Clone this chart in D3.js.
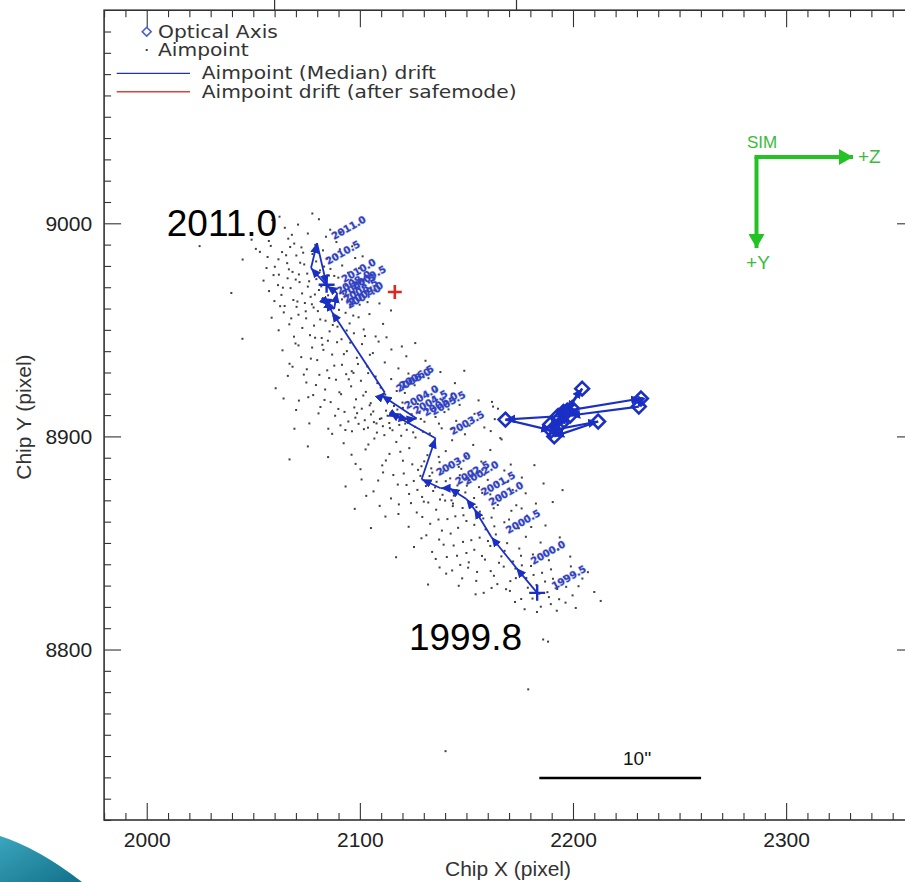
<!DOCTYPE html>
<html>
<head>
<meta charset="utf-8">
<script src="https://cdn.jsdelivr.net/npm/d3@7"></script>
<style>
  body { margin: 0; background: #fff; }
  svg { display: block; }
</style>
</head>
<body>
<script>
// axis ticks
const xMajor = [2000, 2100, 2200, 2300];
const yMajor = [8800, 8900, 9000];

// median aimpoint drift, half-year steps (last point has no label)
const driftYears = [1999.5, 2000.0, 2000.5, 2001.0, 2001.5, 2002.0, 2002.5, 2003.0, 2003.5, 2004.0,
  2004.5, 2005.0, 2005.5, 2006.0, 2006.5, 2007.0, 2007.5, 2008.0, 2008.5, 2009.0, 2009.5, 2010.0,
  2010.5, 2011.0, null];
const driftX = [2183.2, 2173.4, 2161.7, 2153.7, 2150.0, 2142.1, 2137.9, 2129.0, 2135.5, 2114.0,
  2118.2, 2122.9, 2126.6, 2110.3, 2111.7, 2086.9, 2084.6, 2082.2, 2085.5, 2087.9, 2089.3, 2084.6,
  2077.1, 2079.9, 2084.4];
const driftY = [8826.6, 8838.3, 8852.8, 8865.9, 8870.6, 8875.7, 8875.7, 8879.9, 8899.1, 8911.2,
  8908.9, 8907.9, 8908.4, 8919.2, 8920.6, 8958.4, 8963.6, 8965.0, 8961.2, 8959.8, 8967.3, 8970.6,
  8979.0, 8990.7, 8971.2];

// optical axis track
const opticalX = [2193.6, 2204.3, 2197.3, 2231.9, 2230.9, 2198.7, 2168.3, 2189.8, 2211.8, 2191.2,
  2189.3, 2194.5, 2196.4, 2192.6, 2195.5, 2199.5, 2193.0];
const opticalY = [8908.4, 8922.4, 8912.1, 8917.8, 8914.0, 8909.8, 8907.9, 8902.8, 8907.0, 8900.0,
  8905.6, 8906.1, 8910.7, 8904.2, 8911.5, 8913.2, 8909.6];

// aimpoint drift after safemode
const safemodeX = [2116.4];
const safemodeY = [8967.8];

// individual aimpoints
const aimpoints = [
  [2062.3,9003.1],[2071.0,8999.4],[2080.8,9001.9],[2058.9,9001.5],[2075.6,8995.2],[2066.4,8992.8],[2084.1,8993.7],[2069.2,8990.5],[2089.0,8991.2],[2054.3,8996.0],[2077.7,9004.6],[2064.8,8997.9],
  [2051.2,8988.0],[2056.7,8984.2],[2060.1,8979.6],[2063.5,8986.5],[2065.9,8981.3],[2068.4,8977.2],[2070.2,8984.9],[2072.6,8988.7],[2073.9,8980.7],[2075.3,8976.4],[2077.8,8985.6],[2079.5,8982.1],[2081.3,8977.9],[2082.7,8987.3],[2084.6,8983.4],[2086.2,8978.6],[2088.9,8985.0],[2091.7,8980.2],[2094.4,8976.8],[2097.8,8983.7],[2062.0,8975.9],[2067.3,8988.9],[2071.4,8976.0],[2058.2,8989.4],[2085.5,8975.5],[2099.6,8978.9],[2045.0,8983.0],
  [2054.8,8973.1],[2057.4,8968.2],[2059.9,8963.5],[2061.6,8971.0],[2063.2,8966.4],[2064.7,8961.2],[2066.1,8974.2],[2067.5,8969.6],[2068.8,8964.0],[2070.3,8960.8],[2071.7,8972.4],[2072.9,8967.1],[2074.2,8962.6],[2075.6,8970.3],[2076.9,8965.5],[2078.3,8960.5],[2079.6,8973.8],[2080.8,8968.7],[2082.0,8963.1],[2083.5,8971.6],[2085.1,8966.2],[2086.7,8961.4],[2088.3,8969.0],[2089.9,8974.5],[2091.6,8964.3],[2093.4,8970.8],[2095.3,8961.9],[2097.5,8967.6],[2100.2,8972.3],[2103.6,8963.0],[2069.9,8973.6],[2077.5,8962.0],[2039.7,8967.3],[2106.8,8968.5],
  [2058.6,8955.7],[2061.9,8949.8],[2064.3,8958.2],[2066.9,8952.6],[2069.1,8946.8],[2071.2,8957.1],[2073.0,8950.9],[2074.8,8955.4],[2076.6,8947.5],[2078.5,8952.0],[2080.3,8958.8],[2082.1,8946.2],[2083.9,8954.3],[2085.8,8949.3],[2087.6,8956.6],[2089.5,8951.5],[2091.4,8945.6],[2093.3,8958.0],[2095.2,8953.0],[2097.2,8948.4],[2099.4,8955.9],[2101.8,8950.2],[2104.5,8957.4],[2107.4,8946.9],[2110.9,8952.8],[2114.6,8959.1],[2044.9,8945.8],
  [2063.7,8940.4],[2067.0,8934.1],[2069.8,8943.6],[2072.5,8937.2],[2075.1,8931.5],[2077.6,8941.7],[2080.0,8935.8],[2082.4,8943.0],[2084.7,8931.0],[2087.0,8938.4],[2089.3,8944.2],[2091.6,8933.6],[2093.9,8940.0],[2096.2,8930.6],[2098.6,8936.9],[2101.0,8943.3],[2103.5,8932.8],[2106.1,8939.1],[2108.8,8944.5],[2111.7,8934.7],[2114.8,8940.8],[2118.1,8931.9],[2121.8,8937.6],[2126.0,8943.8],
  [2060.5,8922.6],[2066.2,8928.4],[2071.4,8916.8],[2074.9,8925.3],[2078.1,8919.4],[2081.0,8928.9],[2083.7,8922.0],[2086.3,8916.1],[2088.8,8926.6],[2091.2,8919.8],[2093.6,8929.2],[2095.9,8923.5],[2098.2,8917.4],[2100.5,8926.1],[2102.8,8920.9],[2105.1,8915.6],[2107.4,8928.1],[2109.8,8922.9],[2112.2,8917.9],[2114.7,8926.9],[2117.3,8921.3],[2120.0,8915.9],[2122.8,8929.5],[2125.7,8924.0],[2128.8,8918.6],[2132.2,8927.3],[2135.9,8921.7],[2140.1,8916.4],[2144.6,8925.0],[2097.0,8929.8],
  [2070.1,8912.4],[2076.3,8906.1],[2081.5,8913.8],[2085.2,8903.6],[2088.4,8909.7],[2090.9,8905.2],[2092.8,8911.5],[2094.6,8907.0],[2096.3,8902.4],[2097.9,8908.8],[2099.4,8905.9],[2100.9,8913.0],[2102.3,8907.6],[2103.8,8904.1],[2105.2,8910.3],[2106.6,8906.7],[2108.0,8901.8],[2109.4,8908.2],[2110.8,8904.8],[2112.3,8912.1],[2113.8,8906.3],[2115.3,8902.9],[2116.9,8909.4],[2118.5,8905.4],[2120.2,8913.4],[2122.0,8903.1],[2123.9,8908.6],[2125.9,8904.5],[2128.0,8911.0],[2130.3,8906.9],[2132.8,8901.4],[2135.5,8909.1],[2138.4,8903.8],[2141.6,8912.7],[2145.2,8907.3],[2149.3,8901.0],[2153.8,8910.6],[2158.4,8904.2],[2162.5,8914.0],[2087.0,8901.2],[2104.6,8914.6],[2111.5,8900.6],[2119.4,8900.3],
  [2085.1,8890.3],[2092.4,8896.8],[2098.0,8887.1],[2102.7,8893.9],[2106.8,8899.0],[2110.5,8886.4],[2113.9,8891.8],[2117.1,8897.4],[2120.2,8888.6],[2123.2,8894.5],[2126.1,8899.5],[2128.9,8886.0],[2131.7,8891.2],[2134.5,8896.3],[2137.4,8887.9],[2140.3,8893.1],[2143.3,8898.2],[2146.4,8885.7],[2149.7,8890.6],[2153.2,8896.0],[2157.0,8888.2],[2161.2,8893.6],[2165.9,8899.2],[2170.8,8886.8],[2075.6,8895.3],[2067.0,8889.2],
  [2100.8,8879.8],[2106.4,8874.2],[2110.9,8883.1],[2114.6,8870.9],[2117.8,8877.4],[2120.6,8882.6],[2123.1,8873.0],[2125.3,8879.1],[2127.3,8884.3],[2129.2,8871.6],[2131.0,8876.7],[2132.7,8881.4],[2134.4,8874.4],[2136.0,8878.7],[2137.6,8870.4],[2139.2,8883.6],[2140.8,8875.6],[2142.4,8880.3],[2144.1,8872.2],[2145.8,8877.0],[2147.6,8884.8],[2149.5,8873.7],[2151.5,8879.5],[2153.6,8871.1],[2155.9,8876.2],[2158.4,8882.0],[2161.2,8872.8],[2164.3,8878.4],[2167.8,8884.0],[2171.7,8874.9],[2176.0,8880.7],[2093.3,8876.5],[2133.5,8885.0],[2143.0,8870.0],
  [2112.0,8862.4],[2118.3,8868.1],[2122.9,8857.6],[2126.7,8864.3],[2130.0,8869.4],[2133.0,8859.0],[2135.8,8865.6],[2138.5,8855.8],[2141.1,8861.2],[2143.6,8867.3],[2146.1,8857.1],[2148.6,8863.0],[2151.1,8868.8],[2153.7,8858.5],[2156.3,8864.7],[2159.0,8856.4],[2161.8,8861.9],[2164.7,8867.8],[2167.8,8859.7],[2171.1,8865.1],[2174.6,8856.9],[2178.4,8862.8],[2182.6,8868.5],[2187.1,8858.2],[2105.2,8857.0],[2140.0,8869.9],
  [2125.4,8848.1],[2131.2,8853.6],[2135.6,8842.5],[2139.3,8849.2],[2142.6,8854.4],[2145.6,8844.0],[2148.4,8850.5],[2151.1,8840.9],[2153.7,8846.8],[2156.2,8852.5],[2158.7,8842.2],[2161.2,8848.6],[2163.8,8854.0],[2166.4,8843.7],[2169.1,8849.9],[2171.9,8841.3],[2174.8,8847.4],[2177.9,8852.9],[2181.2,8844.6],[2184.8,8850.2],[2188.7,8841.9],[2193.0,8847.0],[2117.0,8843.3],
  [2140.5,8835.6],[2146.4,8829.9],[2150.8,8838.4],[2154.6,8832.2],[2158.1,8826.6],[2161.4,8836.8],[2164.5,8830.7],[2167.5,8838.9],[2170.4,8827.5],[2173.2,8833.5],[2176.0,8839.5],[2178.8,8829.0],[2181.5,8835.0],[2184.2,8826.2],[2186.9,8831.9],[2189.7,8837.6],[2192.6,8828.4],[2195.7,8834.1],[2199.0,8839.0],[2202.6,8829.7],[2207.0,8836.3],[2132.0,8830.5],
  [2172.8,8822.3],[2177.3,8818.9],[2181.0,8823.9],[2184.9,8820.1],[2188.7,8824.6],[2192.4,8818.2],[2196.5,8822.0],[2201.3,8819.5],[2213.0,8822.8],
  [2162.0,8916.2],[2164.8,8913.0],[2161.4,8902.5],[2166.5,8898.6],[2163.3,8908.1],
  [2024.8,8989.3],[2186.0,8804.7],[2188.3,8803.7],[2179.0,8781.3],[2140.2,8752.3],
  [2057.3,8991.7],[2061.8,8983.1],[2066.7,8978.4],[2068.1,8994.6],[2073.4,8986.2],[2076.2,8972.8],[2079.1,8989.9],[2081.9,8970.4],[2083.2,8979.7],[2086.8,8968.1],[2088.0,8975.3],[2090.6,8987.8],[2092.3,8966.9],[2095.7,8973.5],[2059.5,8975.7],[2063.9,8969.8],[2065.4,8985.0],[2070.7,8963.3],[2072.0,8981.5],[2074.6,8958.7],[2078.9,8966.6],[2081.4,8954.9],[2084.3,8962.5],[2087.3,8952.3],[2090.2,8959.4],[2093.8,8949.7],[2096.9,8956.7],[2099.9,8961.8],[2102.4,8947.1],[2067.8,8955.4],[2062.6,8961.1],[2056.2,8979.0],[2053.1,8986.6],[2049.2,8992.3],[2086.1,8997.0],[2091.1,8995.8],[2096.4,8989.2],[2101.3,8984.5],[2105.5,8975.9],[2109.2,8962.4],
  [2071.2,8942.7],[2073.7,8929.0],[2077.0,8936.5],[2079.4,8924.1],[2082.9,8940.6],[2085.6,8927.4],[2088.0,8933.2],[2090.4,8920.7],[2092.5,8938.6],[2094.8,8926.8],[2097.4,8913.6],[2099.1,8934.0],[2101.6,8919.2],[2103.9,8929.7],[2106.3,8911.7],[2108.2,8925.0],[2110.1,8908.5],[2111.9,8919.6],[2114.1,8903.9],[2116.0,8914.3],[2118.9,8907.8],[2121.1,8920.4],[2124.3,8910.4],[2127.2,8915.2],[2129.6,8902.2],[2131.4,8912.5],[2134.2,8918.3],[2137.1,8906.0],[2139.7,8911.4],[2143.0,8903.5],[2146.8,8914.8],[2151.5,8905.1],[2155.7,8916.9],[2080.6,8910.8],[2083.4,8917.1],[2089.9,8912.9],[2093.2,8903.0],[2098.7,8910.9],[2101.9,8903.4],[2107.8,8906.1],[2113.0,8909.7],[2117.6,8912.6],[2121.3,8906.0],[2125.0,8901.9],[2128.6,8908.2],[2075.8,8918.4],[2068.4,8932.7],[2064.2,8917.8],[2069.3,8903.6],[2079.0,8946.3],[2085.0,8944.9],[2095.5,8944.0],[2104.7,8938.3],[2112.5,8946.5],[2119.7,8942.2],[2130.8,8935.5],[2137.8,8930.2],[2143.2,8920.0],[2149.0,8930.8],
  [2096.1,8891.4],[2100.3,8884.6],[2104.0,8896.2],[2108.6,8879.3],[2112.2,8888.7],[2115.7,8881.9],[2119.0,8892.8],[2121.9,8877.2],[2124.6,8886.9],[2127.0,8874.9],[2128.4,8881.5],[2130.2,8888.3],[2132.1,8869.0],[2134.0,8883.0],[2135.3,8876.1],[2137.0,8890.4],[2138.8,8872.6],[2140.3,8879.0],[2141.9,8886.3],[2143.7,8868.5],[2145.3,8874.8],[2146.9,8881.8],[2148.2,8866.4],[2150.2,8876.9],[2152.4,8884.0],[2154.7,8866.8],[2157.4,8873.5],[2160.0,8879.6],[2162.8,8866.3],[2165.6,8871.4],[2169.3,8878.6],[2173.4,8867.7],[2177.8,8873.3],[2181.9,8886.5],[2186.2,8877.9],[2118.1,8863.6],[2124.0,8868.7],[2129.3,8862.2],[2136.9,8861.0],[2144.8,8862.5],[2150.0,8860.3],[2157.9,8861.5],[2163.1,8857.8],[2170.0,8861.0],[2175.9,8866.2],[2109.3,8867.4],[2103.0,8872.1],[2097.6,8866.0],[2190.5,8869.2],[2195.1,8874.8],
  [2128.9,8852.2],[2133.9,8845.8],[2137.2,8851.6],[2140.8,8843.4],[2144.0,8848.8],[2147.1,8839.7],[2150.0,8845.3],[2152.3,8851.3],[2155.0,8836.4],[2157.3,8843.9],[2160.1,8850.9],[2162.9,8834.6],[2165.3,8840.7],[2167.9,8846.3],[2170.6,8832.1],[2173.0,8838.0],[2175.6,8844.0],[2178.1,8833.6],[2180.3,8839.2],[2182.9,8830.3],[2185.5,8836.0],[2188.0,8826.9],[2190.6,8833.2],[2193.5,8823.6],[2196.8,8829.4],[2199.8,8825.4],[2204.4,8833.3],[2210.0,8827.0],[2189.6,8821.3],[2183.1,8817.6],[2175.7,8823.7],[2168.6,8828.3],[2161.8,8828.9],[2154.3,8825.9],[2148.0,8833.4],[2143.3,8837.1],[2137.4,8838.5],[2193.8,8852.6],[2198.7,8843.6],[2180.4,8857.5]
];

// legend entries
const legendItems = ["Optical Axis", "Aimpoint", "Aimpoint (Median) drift", "Aimpoint drift (after safemode)"];

const W = 905, H = 882;
const x = d3.scaleLinear().domain([1980, 2360]).range([104.1, 914]);
const y = d3.scaleLinear().domain([8720, 9100]).range([820, 10.2]);

const svg = d3.select("body").append("svg")
  .attr("width", W).attr("height", H)
  .attr("font-family", "'Liberation Sans', Arial, sans-serif");

const defs = svg.append("defs");
function arrowMarker(id, color, len, wid) {
  defs.append("marker")
    .attr("id", id)
    .attr("markerUnits", "userSpaceOnUse")
    .attr("viewBox", `0 0 ${len} ${wid}`)
    .attr("refX", len).attr("refY", wid / 2)
    .attr("markerWidth", len).attr("markerHeight", wid)
    .attr("orient", "auto")
    .append("path")
    .attr("d", `M0,0L${len},${wid / 2}L0,${wid}Z`)
    .attr("fill", color);
}
arrowMarker("arrBlue", "#1a2fc4", 10, 9);
arrowMarker("arrGreen", "#22c322", 14, 16);

const grad = defs.append("linearGradient").attr("id", "teal")
  .attr("x1", 0).attr("y1", 0).attr("x2", 1).attr("y2", 1);
grad.append("stop").attr("offset", "0%").attr("stop-color", "#3aa6bd");
grad.append("stop").attr("offset", "100%").attr("stop-color", "#12708a");

// slide decoration, bottom-left corner
svg.append("path")
  .attr("d", "M0,836 Q38,848 82,882 L0,882 Z")
  .attr("fill", "url(#teal)");

// ticks of the panel above
svg.selectAll(".above").data([2060, 2173.5]).enter().append("line")
  .attr("x1", d => x(d)).attr("x2", d => x(d))
  .attr("y1", 0).attr("y2", y(9100))
  .attr("stroke", "#333").attr("stroke-width", 1.2);

// axes
const xMinor = d3.range(1980, 2361, 10).filter(v => v % 100 !== 0);
const yMinor = d3.range(8720, 9101, 10).filter(v => v % 100 !== 0);

function styleAxis(g) {
  g.select(".domain").remove();
  g.selectAll(".tick line").attr("stroke", "#333").attr("stroke-width", 1.1);
  g.selectAll(".tick text").attr("fill", "#222").attr("font-size", 21)
    .attr("font-family", "'Liberation Sans', Arial, sans-serif");
}

svg.append("g").attr("transform", `translate(0,${y(8720)})`)
  .call(d3.axisBottom(x).tickValues(xMajor).tickSize(-17).tickPadding(12).tickFormat(d3.format("d")))
  .call(styleAxis);
svg.append("g").attr("transform", `translate(0,${y(8720)})`)
  .call(d3.axisBottom(x).tickValues(xMinor).tickSize(-7).tickFormat(""))
  .call(styleAxis);
svg.append("g").attr("transform", `translate(0,${y(9100)})`)
  .call(d3.axisTop(x).tickValues(xMajor).tickSize(-17).tickFormat(""))
  .call(styleAxis);
svg.append("g").attr("transform", `translate(0,${y(9100)})`)
  .call(d3.axisTop(x).tickValues(xMinor).tickSize(-7).tickFormat(""))
  .call(styleAxis);

svg.append("g").attr("transform", `translate(${x(1980)},0)`)
  .call(d3.axisLeft(y).tickValues(yMajor).tickSize(-17).tickPadding(12).tickFormat(d3.format("d")))
  .call(styleAxis);
svg.append("g").attr("transform", `translate(${x(1980)},0)`)
  .call(d3.axisLeft(y).tickValues(yMinor).tickSize(-7).tickFormat(""))
  .call(styleAxis);
svg.append("g").attr("transform", `translate(${x(2360)},0)`)
  .call(d3.axisRight(y).tickValues(yMajor).tickSize(-17).tickFormat(""))
  .call(styleAxis);
svg.append("g").attr("transform", `translate(${x(2360)},0)`)
  .call(d3.axisRight(y).tickValues(yMinor).tickSize(-7).tickFormat(""))
  .call(styleAxis);

// frame
svg.append("rect")
  .attr("x", x(1980)).attr("y", y(9100))
  .attr("width", x(2360) - x(1980)).attr("height", y(8720) - y(9100))
  .attr("fill", "none").attr("stroke", "#333").attr("stroke-width", 1.6);

// axis titles
svg.append("text")
  .attr("x", 508).attr("y", 876)
  .attr("text-anchor", "middle").attr("font-size", 21).attr("fill", "#333")
  .text("Chip X (pixel)");
svg.append("text")
  .attr("transform", `translate(31,${(y(8720) + y(9100)) / 2 + 2}) rotate(-90)`)
  .attr("text-anchor", "middle").attr("font-size", 21).attr("fill", "#333")
  .text("Chip Y (pixel)");

// aimpoints
svg.append("g").selectAll("rect").data(aimpoints).enter().append("rect")
  .attr("x", d => x(d[0]) - 1).attr("y", d => y(d[1]) - 1)
  .attr("width", 2).attr("height", 2)
  .attr("fill", "#404040");

// optical axis track
const opt = opticalX.map((v, i) => [v, opticalY[i]]);
const gOpt = svg.append("g");
gOpt.selectAll("line").data(opt.slice(1)).enter().append("line")
  .attr("x1", (d, i) => x(opt[i][0])).attr("y1", (d, i) => y(opt[i][1]))
  .attr("x2", d => x(d[0])).attr("y2", d => y(d[1]))
  .attr("stroke", "#1a2fc4").attr("stroke-width", 2.2)
  .attr("marker-end", "url(#arrBlue)");
gOpt.selectAll("path").data(opt).enter().append("path")
  .attr("d", d3.symbol(d3.symbolDiamond2, 120))
  .attr("transform", d => `translate(${x(d[0])},${y(d[1])})`)
  .attr("fill", "none").attr("stroke", "#1a2fc4").attr("stroke-width", 2.6);

// median drift
const drift = driftX.map((v, i) => ({yr: driftYears[i], x: v, y: driftY[i]}));
const gDrift = svg.append("g");
gDrift.selectAll("line").data(drift.slice(1)).enter().append("line")
  .attr("x1", (d, i) => x(drift[i].x)).attr("y1", (d, i) => y(drift[i].y))
  .attr("x2", d => x(d.x)).attr("y2", d => y(d.y))
  .attr("stroke", "#1a2fc4").attr("stroke-width", 1.8)
  .attr("marker-end", "url(#arrBlue)");
[drift[0], drift[drift.length - 1]].forEach(d => {
  gDrift.append("path")
    .attr("d", "M-8,0H8M0,-8V8")
    .attr("transform", `translate(${x(d.x)},${y(d.y)})`)
    .attr("fill", "none").attr("stroke", "#1a2fc4").attr("stroke-width", 2.4);
});
gDrift.selectAll("text").data(drift.filter(d => d.yr !== null)).enter().append("text")
  .attr("transform", d => `translate(${x(d.x) + 17},${y(d.y) - 3}) rotate(-30)`)
  .attr("font-family", "'DejaVu Sans', sans-serif")
  .attr("font-size", 9.8).attr("font-weight", "bold")
  .attr("fill", "#2c3ec8")
  .attr("stroke", "rgba(90,100,170,0.35)").attr("stroke-width", 1.2)
  .attr("paint-order", "stroke")
  .text(d => d.yr.toFixed(1));

// after safemode
svg.append("g").selectAll("path").data(safemodeX).enter().append("path")
  .attr("d", "M-7,0H7M0,-7V7")
  .attr("transform", (d, i) => `translate(${x(d)},${y(safemodeY[i])})`)
  .attr("stroke", "#e0281e").attr("stroke-width", 2.6);

// big year annotations
svg.append("text").attr("x", x(2009.4)).attr("y", y(8993.9))
  .attr("font-size", 37).attr("fill", "#000").text("2011.0");
svg.append("text").attr("x", x(2123.0)).attr("y", y(8800.0))
  .attr("font-size", 37).attr("fill", "#000").text("1999.8");

// 10 arcsec scale bar (HRC pixel 0.13175")
const barX0 = 2184.2, barLen = 10 / 0.13175, barY = 8739.7;
svg.append("line")
  .attr("x1", x(barX0)).attr("x2", x(barX0 + barLen))
  .attr("y1", y(barY)).attr("y2", y(barY))
  .attr("stroke", "#000").attr("stroke-width", 2.6);
svg.append("text")
  .attr("x", x(barX0 + barLen / 2) + 17).attr("y", y(barY) - 13)
  .attr("text-anchor", "middle").attr("font-size", 19).attr("fill", "#111")
  .text("10''");

// SIM orientation arrows
const sim = svg.append("g");
sim.append("path").attr("d", "M756.5,157V248").attr("stroke", "#22c322")
  .attr("stroke-width", 4).attr("fill", "none").attr("marker-end", "url(#arrGreen)");
sim.append("path").attr("d", "M754.5,157H853").attr("stroke", "#22c322")
  .attr("stroke-width", 4).attr("fill", "none").attr("marker-end", "url(#arrGreen)");
sim.append("text").attr("x", 762).attr("y", 148).attr("text-anchor", "middle")
  .attr("font-size", 17).attr("fill", "#3dbb3d").text("SIM");
sim.append("text").attr("x", 858).attr("y", 163)
  .attr("font-size", 19).attr("fill", "#3dbb3d").text("+Z");
sim.append("text").attr("x", 758).attr("y", 269).attr("text-anchor", "middle")
  .attr("font-size", 19).attr("fill", "#3dbb3d").text("+Y");

// legend
const lg = svg.append("g").attr("font-family", "'DejaVu Sans', sans-serif")
  .attr("font-size", 17).attr("fill", "#333");
const lgY = [31.7, 50, 73.3, 91.7];
lg.append("path").attr("d", d3.symbol(d3.symbolDiamond2, 50))
  .attr("transform", `translate(146.7,${lgY[0]})`)
  .attr("fill", "none").attr("stroke", "#4b5ccc").attr("stroke-width", 1.6);
lg.append("rect").attr("x", 145.7).attr("y", lgY[1] - 1).attr("width", 2).attr("height", 2).attr("fill", "#444");
lg.append("line").attr("x1", 116.7).attr("x2", 190).attr("y1", lgY[2]).attr("y2", lgY[2])
  .attr("stroke", "#2036a8").attr("stroke-width", 1.2);
lg.append("line").attr("x1", 116.7).attr("x2", 190).attr("y1", lgY[3]).attr("y2", lgY[3])
  .attr("stroke", "#d9433b").attr("stroke-width", 1.4);
lg.selectAll("text").data(legendItems).enter().append("text")
  .attr("transform", (d, i) => `translate(${i < 2 ? 158 : 201.7},${lgY[i] + 6})scale(1.19,1)`)
  .text(d => d);
</script>
</body>
</html>
